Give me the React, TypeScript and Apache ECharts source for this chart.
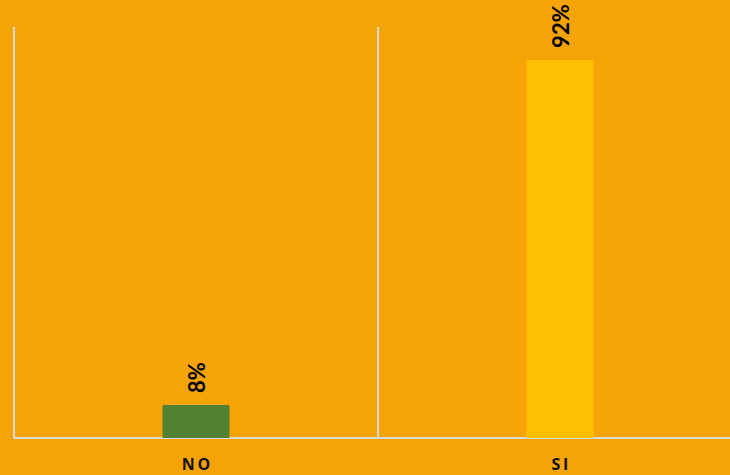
import React, { useEffect, useRef } from "react";
import * as echarts from "echarts";

const categories = ["NO", "SI"];
const values = [8, 92];
const barColors = ["#548235", "#FFC000"];

export default function App() {
  const ref = useRef<HTMLDivElement>(null);

  useEffect(() => {
    document.body.style.margin = "0";
    const chart = echarts.init(ref.current!, null, { renderer: "svg" });
    chart.setOption({
      animation: false,
      backgroundColor: "#F6A405",
      grid: { left: 14, right: 2, top: 27, bottom: 37, containLabel: false },
      xAxis: {
        type: "category",
        data: categories,
        axisTick: { show: false },
        axisLine: { show: true, lineStyle: { color: "#D9D9D9", width: 2 } },
        splitLine: { show: true, lineStyle: { color: "#D9D9D9", width: 2 } },
        axisLabel: {
          margin: 18,
          fontFamily: "Open Sans",
          fontWeight: "bold",
          fontSize: 16,
          color: "#111",
          formatter: (v: string) => v.split("").join("\u2006"),
        },
      },
      yAxis: {
        type: "value",
        min: 0,
        max: 100,
        show: false,
        splitLine: { show: false },
      },
      series: [
        {
          type: "bar",
          barWidth: 67,
          data: values.map((v, i) => ({ value: v, itemStyle: { color: barColors[i] } })),
          label: {
            show: true,
            position: "top",
            distance: 12,
            rotate: 90,
            align: "left",
            verticalAlign: "middle",
            fontFamily: "Lato",
            fontWeight: "bold",
            fontSize: 22,
            color: "#000",
            formatter: "{c}%",
          },
        },
      ],
    });
    return () => chart.dispose();
  }, []);

  return (
    <div style={{ width: 730, height: 475, overflow: "hidden" }}>
      <div ref={ref} style={{ width: 744, height: 475 }} />
    </div>
  );
}
